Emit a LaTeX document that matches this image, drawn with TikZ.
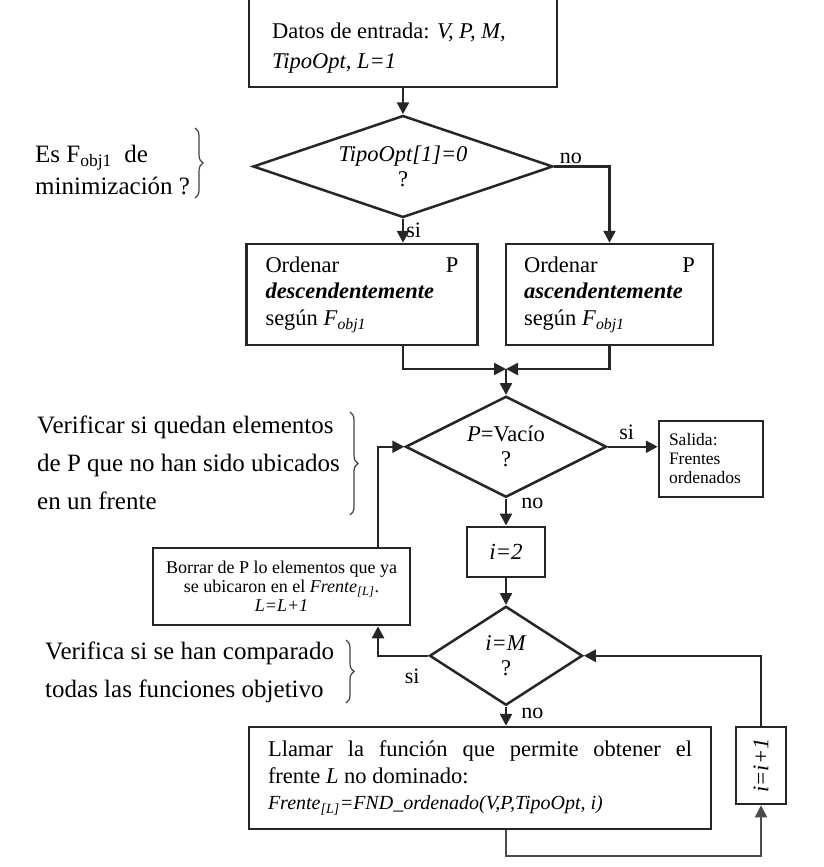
\documentclass[tikz,border=0pt]{standalone}
\usepackage{fontspec}
\usepackage{graphicx}
\setmainfont{Liberation Serif}
\usetikzlibrary{shapes.geometric, arrows.meta, positioning, decorations.pathreplacing}

\begin{document}
\begin{tikzpicture}[
			x=1pt, y=-1pt,
			every node/.style={font=\fontsize{22.5}{26.5}\selectfont, align=center},
			block/.style={rectangle, draw=black!85, line width=2.5pt, inner sep=0pt},
			decision/.style={diamond, draw=black!85, line width=2.5pt, inner sep=0pt, font=\fontsize{22.5}{25}\selectfont},
			line/.style={draw=black!85, line width=2.5pt, -{Triangle[length=12pt, width=12pt]}},
			note/.style={anchor=west, align=left, inner sep=0pt, font=\fontsize{25}{38}\selectfont},
			brace/.style={decorate, decoration={brace, amplitude=8pt}, draw=black!75, line width=1.2pt},
			lbl/.style={font=\fontsize{22}{22}\selectfont, inner sep=2pt},
			small/.style={font=\fontsize{17.5}{19}\selectfont}
			]
			\clip (0,0) rectangle (823,867);
			
			% main column
			\node[block, minimum width=308pt, minimum height=104pt] (input) at (403,35) {};
			\node[anchor=west, align=left, inner sep=0pt, font=\fontsize{22.5}{30}\selectfont] (inputtxt) at (272,48) {Datos de entrada: \textit{V, P, M,}\\\textit{TipoOpt, L=1}};
			\node[decision, shape aspect=3, minimum width=300pt, minimum height=102pt, below=26pt of input] (d1) {\textit{TipoOpt[1]=0}\\?};
			\node[block, minimum width=207pt, minimum height=101pt, text width=171pt, align=justify] (ordR) at (609.5,294.5) {Ordenar\hfill P\\\textbf{\textit{ascendentemente}}\\según \textit{F}\textsubscript{\textit{obj1}}};
			\node[block, minimum width=231pt, minimum height=101pt, text width=193pt, align=justify, left=26pt of ordR] (ordL) {Ordenar\hfill P\\\textbf{\textit{descendentemente}}\\según \textit{F}\textsubscript{\textit{obj1}}};
			\coordinate (merge) at (506,369);
			\node[decision, shape aspect=2, minimum width=201pt, minimum height=101pt, below=26pt of merge] (d2) {\textit{P}=Vacío\\?};
			\node[block, minimum width=104pt, minimum height=76pt, text width=84pt, align=left, small] (salida) at (711,459) {Salida:\\Frentes\\ordenados};
			\node[block, minimum width=78pt, minimum height=50pt, below=27pt of d2, font=\fontsize{23}{26}\selectfont] (i2) {\textit{i=2}};
			\node[decision, shape aspect=1.5, minimum width=153pt, minimum height=99pt, below=27pt of i2] (d3) {\textit{i=M}\\?};
			\node[block, minimum width=257pt, minimum height=77pt, font=\fontsize{18}{19}\selectfont] (borrar) at (281.5,586.5) {Borrar de P lo elementos que ya\\se ubicaron en el \textit{Frente}\textsubscript{\textit{[L]}}.\\\textit{L=L+1}};
			\node[block, minimum width=462pt, minimum height=102pt, text width=424pt, align=justify] (llamar) at (480,778) {Llamar la función que permite obtener el\linebreak frente \textit{L} no dominado:\\{\fontsize{20}{26.5}\selectfont\textit{Frente}\textsubscript{\textit{[L]}}\textit{=FND\_ordenado(V,P,TipoOpt, i)}}};
			\node[block, minimum width=50pt, minimum height=77pt] (inc) at (761,765.5) {\rotatebox{90}{\textit{i=i+1}}};
			
			% side notes
			\node[note, font=\fontsize{25}{32}\selectfont] (nota1) at (35,170) {Es F\textsubscript{obj1}\enspace de\\minimización ?};
			\node[note] (nota2) at (37,463) {Verificar si quedan elementos\\de P que no han sido ubicados\\en un frente};
			\node[note] (nota3) at (45,672.5) {Verifica si se han comparado\\todas las funciones objetivo};
			\draw[brace] (195,128) -- (195,198);
			\draw[brace] (350,412) -- (350,515);
			\draw[brace] (346,640) -- (346,703);
			
			\draw[line] (input) -- (d1);
			\draw[line] (d1.east) -| node[lbl, pos=0.15, above] {no} (ordR.north);
			\draw[line] (d1.south) -- node[lbl, right] {si} (d1.south |- ordL.north);
			\draw[line] (d1.south |- ordL.south) |- (merge);
			\draw[line] (ordR.south) |- (merge);
			\draw[line] (merge) -- (d2);
			\draw[line] (d2.east) -- node[lbl, pos=0.38, above=4pt] {si} (d2.east -| salida.west);
			\draw[line] (d2) -- node[lbl, pos=0.2, right=12pt] {no} (i2);
			\draw[line] (i2) -- (d3);
			\draw[line] (d3.west) -| node[lbl, pos=0.16, below=10pt] {si} ([xshift=96.5pt]borrar.south);
			\draw[line] ([xshift=96.5pt]borrar.north) |- (d2.west);
			\draw[line] (d3) -- node[lbl, pos=0.35, right=12pt] {no} (d3.south |- llamar.north);
			\draw[line, line width=1.6pt, draw=black!70] (d3.south |- llamar.south) -- ++(0,26) -| (inc.south);
			\draw[line] (inc.north) |- (d3.east);
		\end{tikzpicture}
\end{document}
